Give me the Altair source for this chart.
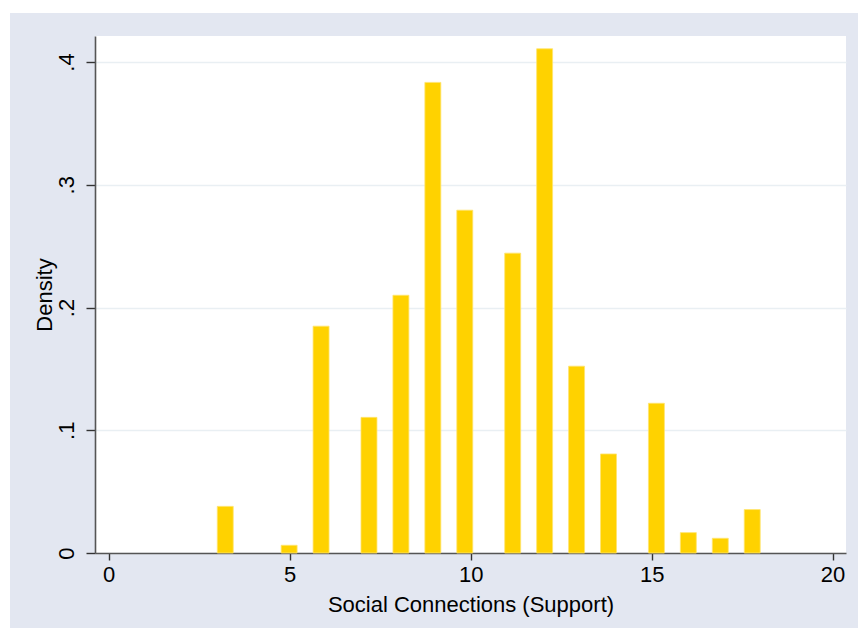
import altair as alt
import pandas as pd
import math

# Observed support scores and their histogram density
support = [3, 5, 6, 7, 8, 9, 10, 11, 12, 13, 14, 15, 16, 17, 18]
density = [0.038, 0.0063, 0.1848, 0.1105, 0.210, 0.3834, 0.2793, 0.2443,
           0.4108, 0.1522, 0.0807, 0.122, 0.0166, 0.012, 0.0354]

# Histogram binning: 34 equal bins spanning the observed range 3..18
bin_lo, bin_hi, n_bins = 3, 18, 34
bin_w = (bin_hi - bin_lo) / n_bins

rows = []
for v, d in zip(support, density):
    k = min(int(math.floor((v - bin_lo) / bin_w)), n_bins - 1)
    x0 = bin_lo + k * bin_w
    rows.append({"x0": x0, "x1": x0 + bin_w, "density": d})
df = pd.DataFrame(rows)

x_ticks = [0, 5, 10, 15, 20]
y_ticks = [0, 0.1, 0.2, 0.3, 0.4]

W, H = 751, 517
FONT = "Liberation Sans"
PANEL = "#E3E7F1"

bars = alt.Chart(df).mark_rect(
    color="#FFD200", stroke="#FFE470", strokeWidth=0.8
).encode(
    x=alt.X("x0:Q",
            scale=alt.Scale(domain=[-0.378, 20.37], nice=False, zero=False),
            axis=alt.Axis(values=x_ticks, title="Social Connections (Support)",
                          grid=False, tickSize=7, labelPadding=4,
                          titlePadding=9)),
    x2="x1:Q",
    y=alt.Y("density:Q",
            scale=alt.Scale(domain=[0, 0.4212], nice=False),
            axis=alt.Axis(values=y_ticks, title="Density", grid=True,
                          labelExpr="datum.value == 0 ? '0' : replace(format(datum.value, '.1f'), '0.', '.')",
                          labelAngle=270, labelAlign="center",
                          labelBaseline="bottom", tickSize=9, labelPadding=8,
                          titlePadding=-1)),
    y2=alt.datum(0),
)

# White margin strips above and left of the grey graph region
strip_df = pd.DataFrame({"k": ["top", "left"]})
strips = alt.Chart(strip_df).mark_rect(color="white").encode(
    x=alt.value(-95), x2=alt.value(W + 20),
    y=alt.value(-36), y2=alt.value(-23),
).transform_filter(alt.datum.k == "top")
strips_left = alt.Chart(strip_df).mark_rect(color="white").encode(
    x=alt.value(-95), x2=alt.value(-85),
    y=alt.value(-36), y2=alt.value(H + 80),
).transform_filter(alt.datum.k == "left")

chart = alt.layer(strips, strips_left, bars).properties(
    width=W, height=H,
    autosize=alt.AutoSizeParams(type="none"),
    padding={"left": 95, "top": 36, "right": 12, "bottom": 75},
    background=PANEL,
).configure_view(
    fill="white", stroke=None
).configure_axis(
    labelFont=FONT, titleFont=FONT, labelFontSize=22, titleFontSize=22,
    labelColor="#000000", titleColor="#000000", titleFontWeight="normal",
    domainColor="#555555", domainWidth=1.6, tickColor="#333333",
    tickWidth=1.4, gridColor="#E9EFF3", gridWidth=1.6,
)

chart.save("out.html", embed_options={"renderer": "svg", "actions": False})
